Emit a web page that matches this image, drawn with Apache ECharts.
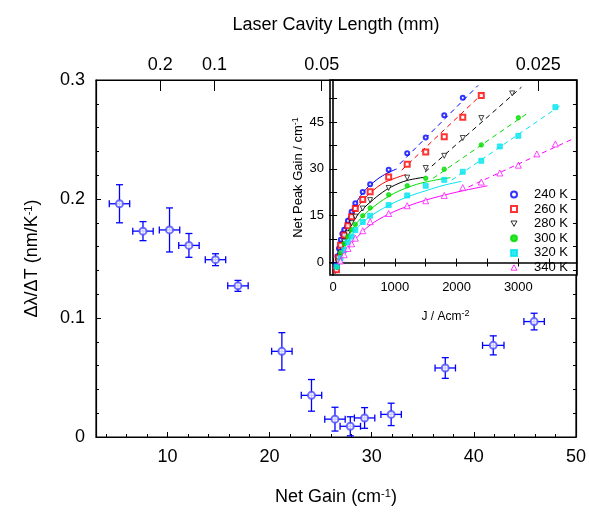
<!DOCTYPE html>
<html><head><meta charset="utf-8">
<script src="https://cdn.jsdelivr.net/npm/echarts@6/dist/echarts.min.js"></script>
<style>html,body{margin:0;padding:0;background:#fff}#c{width:589px;height:513px}</style>
</head><body><div id="c"></div>
<script>
// ---------- Main plot data ----------
const mainGain  = [5.3, 7.6, 10.2, 12.1, 14.7, 16.9, 21.2, 24.1, 26.4, 27.9, 29.3, 31.9, 37.2, 41.9, 45.9];
const mainShift = [0.196, 0.173, 0.174, 0.161, 0.149, 0.127, 0.072, 0.035, 0.015, 0.009, 0.016, 0.019, 0.058, 0.077, 0.097];
const gainErr   = [1.0, 1.0, 1.0, 1.0, 1.0, 1.0, 1.0, 1.0, 1.0, 1.0, 1.0, 1.0, 1.0, 1.05, 1.0];
const shiftErr  = [0.016, 0.008, 0.0185, 0.010, 0.005, 0.0046, 0.0157, 0.0133, 0.010, 0.008, 0.0087, 0.0094, 0.0087, 0.008, 0.007];

const gainTicks      = [10, 20, 30, 40, 50];
const gainMinorTicks = [4, 6, 8, 12, 14, 16, 18, 22, 24, 26, 28, 32, 34, 36, 38, 42, 44, 46, 48];
const cavityGain   = [9.3, 14.6, 25.1, 46.3];
const cavityLabels = ['0.2', '0.1', '0.05', '0.025'];

// ---------- Inset data ----------
const tempLabels = ['240 K', '260 K', '280 K', '300 K', '320 K', '340 K'];
const pts240 = [[45,-1],[70,2],[95,4.5],[125,7.3],[150,9.2],[180,10.5],[240,13.4],[300,16.3],[360,19.0],[480,22.6],[600,25.1],[900,29.7],[1200,35.0],[1500,40.1],[1800,47.2],[2100,52.8]];
const pts260 = [[55,-2.3],[85,1.5],[120,5.5],[180,8.8],[240,11.8],[300,14.7],[360,17.3],[480,20.2],[600,22.7],[900,27.4],[1200,31.5],[1500,35.4],[1800,40.3],[2100,46.6],[2400,53.5]];
const pts280 = [[60,-1.5],[80,0.3],[120,3.2],[180,6.7],[240,9.4],[300,12.6],[360,14.7],[480,17.3],[600,20.0],[900,23.9],[1200,27.2],[1500,30.3],[1800,34.2],[2100,39.9],[2400,46.3],[2900,54.2]];
const pts300 = [[70,-1.5],[120,3.0],[180,6.0],[240,8.3],[300,10.5],[360,12.2],[480,15.0],[600,17.5],[900,21.7],[1200,24.6],[1500,27.0],[1800,29.9],[2400,37.7],[3000,46.4]];
const pts320 = [[55,-1.3],[120,1.4],[180,4.0],[240,6.5],[300,8.3],[360,10.4],[480,13.0],[600,15.0],[900,18.4],[1200,21.5],[1500,24.6],[1800,26.5],[2100,29.1],[2400,32.6],[2700,37.2],[3000,40.6],[3600,49.8]];
const pts340 = [[120,0.5],[180,2.5],[240,4.5],[300,6.0],[360,7.8],[480,10.2],[600,13.1],[900,15.7],[1200,18.2],[1500,19.8],[1800,21.5],[2100,24.0],[2400,25.8],[2700,28.7],[3000,31.2],[3300,34.8],[3600,38.0]];

// low-current (solid) fit curves
const fit240 = [[25,-3],[60,1.5],[100,5.5],[150,9.3],[200,12.3],[300,16.5],[400,20],[500,22.8],[600,24.8],[800,27.8],[1030,30]];
const fit260 = [[30,-3.5],[70,0.5],[120,5],[180,8.8],[240,11.8],[300,14.5],[400,17.8],[500,20.3],[600,22.3],[800,25.3],[1000,27],[1180,28.2]];
const fit280 = [[35,-3.5],[80,0],[130,4],[200,8],[300,12.2],[400,15.3],[500,17.5],[600,19.3],[800,22.5],[1000,24.8],[1200,26.3],[1470,27.3]];
const fit300 = [[35,-3.5],[90,0],[150,4],[240,8],[360,12],[480,14.8],[600,17],[900,21.2],[1200,24],[1500,25.8],[1900,27.2]];
const fit320 = [[30,-3.5],[90,-0.5],[150,3],[240,6.5],[360,10.3],[480,12.8],[600,14.8],[900,18.3],[1200,21],[1500,23],[1800,24.8],[2080,26]];
const fit340 = [[40,-3.5],[120,0],[200,3],[300,6],[400,8.3],[600,12],[900,15.5],[1200,18],[1500,20],[1800,21.6],[2100,23],[2500,24.6]];
// high-current (dashed) linear fits: end points
const lin240 = [[1080,31.6],[2350,56.8]];
const lin260 = [[1110,29.6],[2460,54.9]];
const lin280 = [[1490,29],[3050,56.2]];
const lin300 = [[1620,27],[3160,48]];
const lin320 = [[1920,26.4],[3680,50.3]];
const lin340 = [[2060,23],[3860,39.4]];

const jTicks      = [0, 1000, 2000, 3000];
const jMinorTicks = [0, 500, 1000, 1500, 2000, 2500, 3000, 3500];
const gInsetTicks = [0, 15, 30, 45];
const gInsetMinor = [0, 7.5, 15, 22.5, 30, 37.5, 45, 52.5];

// ---------- Chart ----------
const FONT = 'Liberation Sans, Arial, sans-serif';
const BLUE = '#0000ff';
const colors = ['#0000ff', '#ff0000', '#000000', '#00dd00', '#00e5ee', '#ff00ff'];
const DOWN_TRI = 'path://M0,0 L10,0 L5,9 Z';
const UP_TRI = 'path://M5,0 L10,9 L0,9 Z';
const symbols = ['emptyCircle', 'emptyRect', DOWN_TRI, 'circle', 'rect', UP_TRI];
const symbolSizes = [4, 5, 5, 4.5, 5, 6];
const fills = [colors[0], colors[1], '#fff', colors[3], colors[4], '#fff'];
const ptsAll = [pts240, pts260, pts280, pts300, pts320, pts340];
const fitAll = [fit240, fit260, fit280, fit300, fit320, fit340];
const linAll = [lin240, lin260, lin280, lin300, lin320, lin340];

const chart = echarts.init(document.getElementById('c'), null, { renderer: 'canvas' });

const axisLineBlack = { show: true, lineStyle: { color: '#000', width: 1.2 } };
const mainLabel = { fontSize: 18, color: '#000', fontFamily: FONT };
const insetLabel = { fontSize: 13, color: '#000', fontFamily: FONT };
const mainName = { fontSize: 18, color: '#000', fontFamily: FONT,
  rich: { sup: { fontSize: 11, color: '#000', fontFamily: FONT, verticalAlign: 'top', padding: [0, 0, 8, 0] } } };
const insetName = { fontSize: 13, color: '#000', fontFamily: FONT,
  rich: { sup: { fontSize: 9, color: '#000', fontFamily: FONT, verticalAlign: 'top', padding: [0, 0, 6, 0] } } };

const mainErrData = mainGain.map((g, i) => [g, mainShift[i], gainErr[i], shiftErr[i]]);

const series = [
  {
    type: 'custom', xAxisIndex: 0, yAxisIndex: 0, z: 3,
    data: mainErrData,
    renderItem: function (params, api) {
      const x = api.value(0), y = api.value(1), ex = api.value(2), ey = api.value(3);
      const l = api.coord([x - ex, y]), r = api.coord([x + ex, y]);
      const t = api.coord([x, y + ey]), b = api.coord([x, y - ey]);
      const cap = 3.5;
      const st = { stroke: BLUE, lineWidth: 1.3 };
      return { type: 'group', children: [
        { type: 'line', shape: { x1: l[0], y1: l[1], x2: r[0], y2: r[1] }, style: st },
        { type: 'line', shape: { x1: t[0], y1: t[1], x2: b[0], y2: b[1] }, style: st },
        { type: 'line', shape: { x1: l[0], y1: l[1] - cap, x2: l[0], y2: l[1] + cap }, style: st },
        { type: 'line', shape: { x1: r[0], y1: r[1] - cap, x2: r[0], y2: r[1] + cap }, style: st },
        { type: 'line', shape: { x1: t[0] - cap, y1: t[1], x2: t[0] + cap, y2: t[1] }, style: st },
        { type: 'line', shape: { x1: b[0] - cap, y1: b[1], x2: b[0] + cap, y2: b[1] }, style: st }
      ] };
    }
  },
  {
    type: 'scatter', xAxisIndex: 0, yAxisIndex: 0, z: 4,
    symbol: 'emptyCircle', symbolSize: 7,
    itemStyle: { color: '#4a4aff', borderColor: '#4a4aff', borderWidth: 1.2 },
    data: mainGain.map((g, i) => [g, mainShift[i]])
  }
];

for (let k = 0; k < 6; k++) {
  series.push({
    name: tempLabels[k] + ' fit', type: 'line', xAxisIndex: 3, yAxisIndex: 2,
    data: fitAll[k], smooth: 0.4, showSymbol: false, symbol: 'none',
    lineStyle: { color: colors[k], width: 1 }, z: 3, silent: true
  });
  series.push({
    name: tempLabels[k] + ' lin', type: 'line', xAxisIndex: 3, yAxisIndex: 2,
    data: linAll[k], showSymbol: false, symbol: 'none',
    lineStyle: { color: colors[k], width: 1, type: [5, 4] }, z: 3, silent: true
  });
}
for (let k = 0; k < 6; k++) {
  series.push({
    name: tempLabels[k], type: 'scatter', xAxisIndex: 3, yAxisIndex: 2,
    data: ptsAll[k], symbol: symbols[k], symbolSize: symbolSizes[k],
    color: colors[k],
    itemStyle: { color: fills[k], borderColor: colors[k], borderWidth: 0.9 }, z: 5
  });
}

const legendData = tempLabels.map(function (name, k) {
  if (fills[k] === '#fff') {
    return { name: name, icon: symbols[k], itemStyle: { color: '#fff', borderColor: colors[k], borderWidth: 1 } };
  }
  return { name: name };
});

const option = {
  animation: false,
  backgroundColor: '#fff',
  grid: [
    { left: 96, top: 80, right: 12, bottom: 76, show: true, borderColor: '#000', borderWidth: 1.2, backgroundColor: '#fff' },
    { left: 330, top: 80, right: 12, bottom: 238, show: true, borderColor: '#000', borderWidth: 1.6, backgroundColor: '#fff' }
  ],
  legend: {
    orient: 'vertical', left: 505, top: 183, itemWidth: 6, itemHeight: 6, itemGap: 1.6,
    selectedMode: false, data: legendData,
    textStyle: { fontSize: 13, color: '#000', fontFamily: FONT, lineHeight: 13, padding: [0, 0, 0, 12] }
  },
  xAxis: [
    { gridIndex: 0, type: 'value', min: 3, max: 50, position: 'bottom',
      axisLine: axisLineBlack,
      axisTick: { show: true, inside: true, length: 5, customValues: gainTicks, lineStyle: { color: '#000' } },
      axisLabel: Object.assign({ customValues: gainTicks, margin: 11 }, mainLabel),
      splitLine: { show: false },
      name: 'Net Gain (cm{sup|-1})', nameLocation: 'middle', nameGap: 51, nameTextStyle: mainName },
    { gridIndex: 0, type: 'value', min: 3, max: 50, position: 'bottom',
      axisLine: { show: false },
      axisTick: { show: true, inside: true, length: 3, customValues: gainMinorTicks, lineStyle: { color: '#000' } },
      axisLabel: { show: false }, splitLine: { show: false } },
    { gridIndex: 0, type: 'value', min: 3, max: 50, position: 'top',
      axisLine: axisLineBlack,
      axisTick: { show: true, inside: true, length: 11, customValues: cavityGain, lineStyle: { color: '#000' } },
      axisLabel: Object.assign({ customValues: cavityGain, margin: 6,
        formatter: function (v) { const i = cavityGain.indexOf(v); return i >= 0 ? cavityLabels[i] : ''; } }, mainLabel),
      splitLine: { show: false },
      name: 'Laser Cavity Length (mm)', nameLocation: 'middle', nameGap: 46, nameTextStyle: mainName },
    { gridIndex: 1, type: 'value', min: -50, max: 3950, position: 'bottom',
      axisLine: { show: true, lineStyle: { color: '#000', width: 1.6 } },
      axisTick: { show: true, inside: true, length: 4, customValues: jMinorTicks, lineStyle: { color: '#000' } },
      axisLabel: Object.assign({ customValues: jTicks, margin: 6, formatter: function (v) { return String(v); } }, insetLabel),
      splitLine: { show: false },
      name: 'J / Acm{sup|-2}', nameLocation: 'middle', nameGap: 34,
      nameTextStyle: Object.assign({}, insetName, { fontSize: 12, padding: [0, 16, 0, 0] }) },
    { gridIndex: 1, type: 'value', min: -50, max: 3950, position: 'top',
      axisLine: { show: false },
      axisTick: { show: true, inside: true, length: 4, customValues: jMinorTicks, lineStyle: { color: '#000' } },
      axisLabel: { show: false }, splitLine: { show: false } }
  ],
  yAxis: [
    { gridIndex: 0, type: 'value', min: 0, max: 0.3, interval: 0.1, position: 'left',
      axisLine: axisLineBlack,
      axisTick: { show: true, inside: true, length: 5, lineStyle: { color: '#000' } },
      minorTick: { show: true, splitNumber: 5, length: 3, lineStyle: { color: '#000' } },
      axisLabel: Object.assign({ margin: 11 }, mainLabel),
      splitLine: { show: false },
      name: 'Δλ/ΔT (nm/K{sup|-1})', nameLocation: 'middle', nameGap: 54, nameTextStyle: mainName },
    { gridIndex: 0, type: 'value', min: 0, max: 0.3, interval: 0.1, position: 'right',
      axisLine: axisLineBlack,
      axisTick: { show: true, inside: true, length: 5, lineStyle: { color: '#000' } },
      minorTick: { show: true, splitNumber: 5, length: 3, lineStyle: { color: '#000' } },
      axisLabel: { show: false }, splitLine: { show: false } },
    { gridIndex: 1, type: 'value', min: -4, max: 58.5, position: 'left',
      axisLine: { show: true, lineStyle: { color: '#000', width: 1.6 } },
      axisTick: { show: true, inside: true, length: 4, customValues: gInsetMinor, lineStyle: { color: '#000' } },
      axisLabel: Object.assign({ customValues: gInsetTicks, margin: 6 }, insetLabel),
      splitLine: { show: false },
      name: 'Net Peak Gain / cm{sup|-1}', nameLocation: 'middle', nameGap: 24, nameTextStyle: insetName },
    { gridIndex: 1, type: 'value', min: -4, max: 58.5, position: 'right',
      axisLine: { show: false },
      axisTick: { show: true, inside: true, length: 4, customValues: gInsetMinor, lineStyle: { color: '#000' } },
      axisLabel: { show: false }, splitLine: { show: false } }
  ],
  series: series
};
chart.setOption(option);
</script></body></html>
